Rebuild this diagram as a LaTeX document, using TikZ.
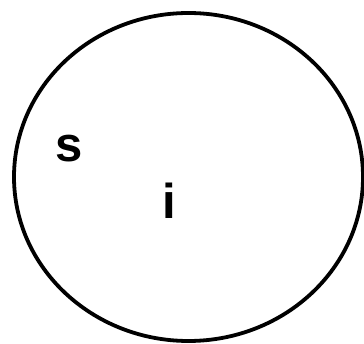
\documentclass[tikz,border=0pt]{standalone}
\usepackage{fontspec}
\setmainfont{Liberation Sans}
\usetikzlibrary{shapes.geometric}
\begin{document}
\begin{tikzpicture}[x=1pt,y=-1pt,
  lbl/.style={font=\fontsize{49}{51}\selectfont\bfseries, anchor=base, inner sep=0pt}]
\useasboundingbox (0,0) rectangle (364,344);
\node[draw, line width=3.8pt, ellipse, minimum width=349pt, minimum height=328pt, inner sep=0pt] (e) at (188.5,177) {};
\node[lbl] (s) at (69,162) {s};
\node[lbl] (i) at (169,219) {i};
\end{tikzpicture}
\end{document}
